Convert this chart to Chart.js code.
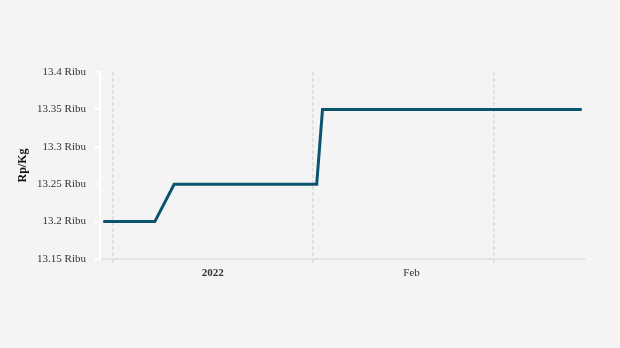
<!DOCTYPE html>
<html>
<head>
<meta charset="utf-8">
<script src="https://cdn.jsdelivr.net/npm/chart.js@4"></script>
<style>
    body { margin: 0; background: #f4f4f4; }
    #wrap { width: 620px; height: 348px; position: relative; }
</style>
</head>
<body>
<div id="wrap"><canvas id="price-chart"></canvas></div>
<script>
// days counted from 1 Jan 2022
const dayOffsets = [-1.5, 6.5, 9.5, 31.6, 32.5, 72.7]
const prices = [13200, 13200, 13250, 13250, 13350, 13350]
const monthStarts = [0, 31, 59]
const tickLabels = ['2022', 'Feb']
const labelDays = [15.5, 46.3]

const serif = '"Liberation Serif", "Times New Roman", serif'

const chartEl = document.getElementById('price-chart')

new Chart(chartEl, {
    type: 'line',
    data: {
        datasets: [{
            label: 'Harga',
            data: dayOffsets.map((d, i) => ({ x: d, y: prices[i] })),
            borderColor: '#0b5470',
            borderWidth: 3,
            pointRadius: 0,
            tension: 0
        }]
    },
    options: {
        animation: false,
        responsive: true,
        maintainAspectRatio: false,
        layout: { padding: { left: 14, top: 72, right: 35, bottom: 59 } },
        plugins: { legend: { display: false }, tooltip: { enabled: false } },
        scales: {
            x: {
                type: 'linear',
                min: -2,
                max: 73.2,
                afterBuildTicks: scale => {
                    scale.ticks = monthStarts.concat(labelDays).sort((a, b) => a - b).map(v => ({ value: v }))
                },
                afterFit: scale => { scale.height = 30 },
                border: { color: '#e4e4e4', width: 2, dash: [4, 2] },
                grid: {
                    color: ctx => monthStarts.includes(ctx.tick && ctx.tick.value) ? '#dcdcdc' : 'rgba(0,0,0,0)',
                    lineWidth: 1.5,
                    tickLength: 4,
                    tickBorderDash: [4, 2]
                },
                ticks: {
                    autoSkip: false,
                    maxRotation: 0,
                    padding: 4,
                    color: '#333',
                    font: ctx => ({
                        family: serif,
                        size: 11,
                        weight: ctx.tick && ctx.tick.value === labelDays[0] ? 'bold' : 'normal'
                    }),
                    callback: v => {
                        const i = labelDays.indexOf(v)
                        return i >= 0 ? tickLabels[i] : ''
                    }
                }
            },
            y: {
                min: 13150,
                max: 13400,
                afterFit: scale => { scale.width = 86 },
                border: { color: '#ffffff', width: 2 },
                grid: { drawOnChartArea: false, color: '#ffffff', lineWidth: 2, tickLength: 6 },
                ticks: {
                    stepSize: 50,
                    padding: 8,
                    color: '#333',
                    font: { family: serif, size: 11 },
                    callback: v => Number((v / 1000).toFixed(2)) + ' Ribu'
                },
                title: {
                    display: true,
                    text: 'Rp/Kg',
                    color: '#111',
                    padding: 2,
                    font: { family: serif, size: 12, weight: 'bold' }
                }
            }
        }
    },
    plugins: [{
        id: 'bg',
        beforeDraw: chart => {
            const c = chart.ctx
            c.save()
            c.fillStyle = '#f4f4f4'
            c.fillRect(0, 0, chart.width, chart.height)
            c.restore()
        }
    }]
})
</script>
</body>
</html>
